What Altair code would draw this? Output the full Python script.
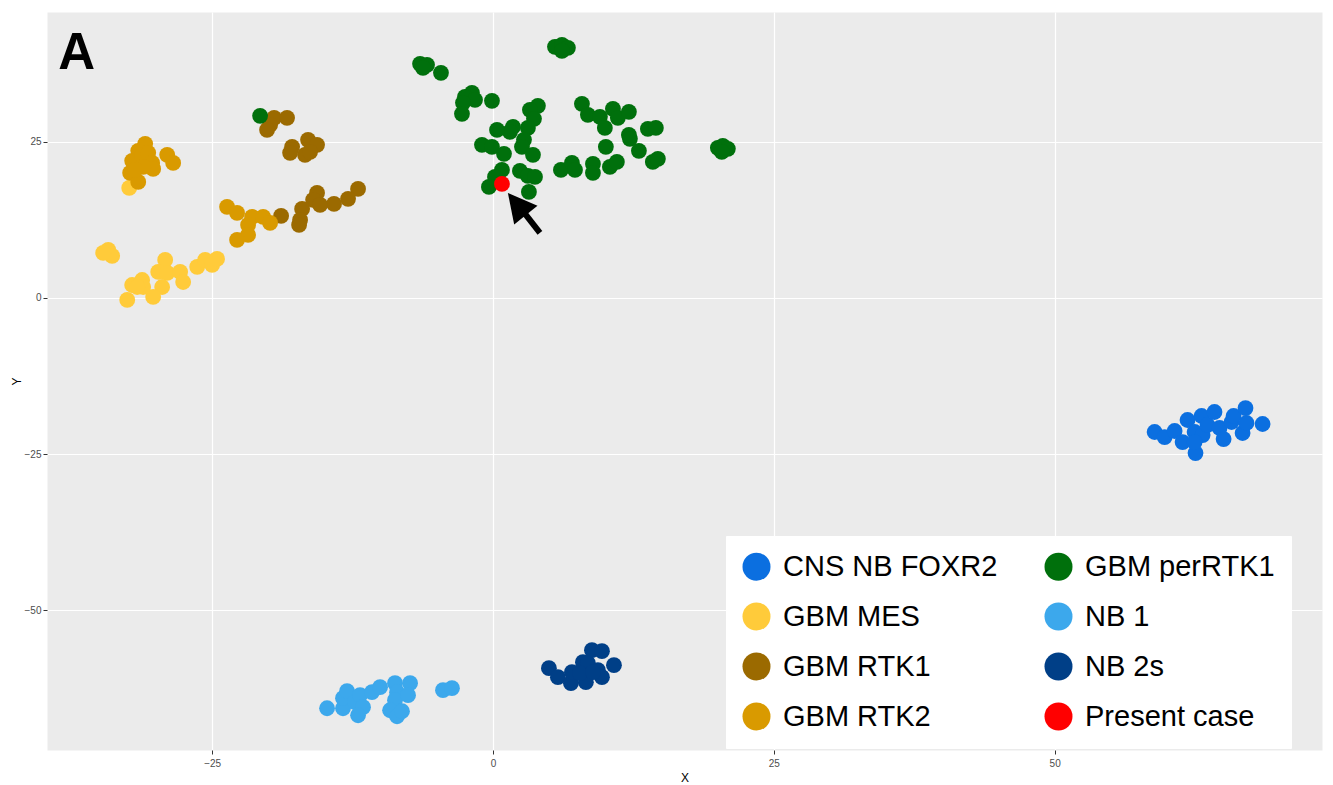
import altair as alt
import pandas as pd

# ---------------- data ----------------
groups = ["CNS NB FOXR2", "GBM MES", "GBM RTK1", "GBM RTK2",
          "GBM perRTK1", "NB 1", "NB 2s", "Present case"]
colors = ["#0B6FE0", "#FFCB3A", "#9B6A00", "#D99A00",
          "#00700C", "#3CA8EC", "#003F87", "#FF0000"]

foxr2_x = [58.90, 59.79, 60.68, 61.83, 61.39, 62.46, 62.54, 63.08, 63.17, 63.61,
           64.23, 64.68, 65.04, 65.75, 65.93, 66.73, 66.99, 67.08, 68.51, 62.46]
foxr2_y = [-21.47, -22.28, -21.31, -19.55, -23.08, -21.47, -24.84, -18.91, -21.96, -20.35,
           -18.27, -20.83, -22.60, -19.87, -18.91, -21.63, -17.63, -20.03, -20.19, -23.08]

mes_x = [-34.25, -33.90, -34.70, -29.18, -29.80, -29.00, -29.45, -30.25, -32.56, -32.12,
         -31.23, -31.14, -27.85, -27.58, -26.33, -25.62, -25.00, -24.56, -31.67, -32.38]
mes_y = [7.69, 6.73, 7.21, 6.09, 4.17, 4.01, 1.76, 0.16, -0.32, 2.08,
         2.88, 1.76, 4.17, 2.56, 4.97, 6.09, 5.29, 6.25, 1.76, 17.63]

rtk1_x = [-19.48, -19.84, -20.11, -18.33, -16.46, -15.66, -17.88, -18.06, -16.73, -16.28,
          -12.01, -12.90, -14.15, -15.66, -16.01, -15.39, -16.99, -17.17, -17.26, -18.86]
rtk1_y = [28.85, 27.72, 26.92, 28.85, 25.32, 24.52, 24.20, 23.24, 22.92, 23.40,
          17.47, 15.87, 15.06, 16.83, 15.71, 14.90, 14.26, 12.50, 11.70, 13.14]

rtk2_x = [-30.96, -31.58, -32.12, -31.25, -30.69, -30.34, -30.25, -32.30, -31.58, -29.00,
          -28.47, -31.14, -31.85,
          -23.67, -22.78, -21.44, -20.46, -19.84, -21.80, -21.80, -22.78]
rtk2_y = [24.68, 23.56, 21.96, 22.92, 23.24, 21.63, 20.67, 20.03, 18.59, 22.92,
          21.63, 20.99, 20.51,
          14.58, 13.62, 12.98, 12.98, 12.02, 11.70, 10.10, 9.29]

perrtk1_x = [-20.73, -6.49, -5.87, -6.23, -4.63, -1.87, -2.49, -1.60, -2.67, -2.76,
             -0.09, 4.00, 3.29, 3.65, 1.78, 1.51, 0.36, 3.11, 2.76, 2.58,
             -0.98, -0.09, 0.98, 3.56, 0.80, 0.18, -0.36, 2.40, 3.11, 3.74,
             3.20, 5.52, 6.14, 6.67, 6.14, 7.92, 8.45, 9.52, 9.96, 10.68,
             11.12, 12.10, 12.10, 12.19, 10.05, 12.99, 13.79, 14.50, 14.23, 14.68,
             6.05, 7.03, 7.30, 8.90, 8.90, 10.41, 11.03,
             20.02, 20.46, 20.91, 20.37]
perrtk1_y = [29.17, 37.50, 37.34, 36.86, 36.06, 32.85, 32.21, 31.73, 31.25, 29.49,
             31.57, 30.77, 30.13, 28.69, 27.40, 26.60, 26.92, 27.24, 25.32, 24.20,
             24.52, 24.20, 23.08, 22.92, 20.51, 19.39, 17.79, 20.35, 19.55, 19.39,
             16.99, 40.22, 40.54, 40.06, 39.58, 31.09, 29.33, 29.01, 27.24, 30.29,
             28.85, 29.81, 26.12, 25.48, 24.20, 23.56, 27.08, 27.24, 21.79, 22.28,
             20.51, 21.63, 20.51, 21.47, 20.03, 20.99, 21.79,
             24.04, 24.36, 23.88, 23.40]

nb1_x = [-14.77, -13.35, -13.35, -12.99, -12.28, -11.83, -11.57, -12.01, -10.77, -10.05,
         -8.72, -8.54, -8.72, -9.16, -8.54, -8.10, -7.38, -7.56, -4.45, -3.65]
nb1_y = [-65.71, -65.71, -64.10, -62.98, -64.74, -63.62, -65.54, -66.83, -63.14, -62.34,
         -61.70, -63.14, -64.42, -66.03, -67.00, -66.19, -61.70, -63.62, -62.82, -62.50]

nb2s_x = [4.98, 5.78, 6.94, 7.03, 8.01, 8.81, 9.70, 8.45, 8.27, 9.34, 9.70, 10.77, 7.74, 8.90]
nb2s_y = [-59.29, -60.74, -61.70, -59.94, -58.33, -56.41, -56.57, -58.49, -61.54, -59.62,
          -60.74, -58.81, -60.10, -59.94]

case_x = [0.80]
case_y = [18.27]

x_ticks = [-25, 0, 25, 50]
y_ticks = [-50, -25, 0, 25]

# annotations
panel_label = ["A"]
panel_x = [-38.7]
panel_y = [36.7]
shaft_x, shaft_y, shaft_x2, shaft_y2 = [2.58], [14.10], [4.18], [10.42]
head_x, head_y = [2.17], [14.95]

# ---------------- build tables ----------------
series = [
    ("CNS NB FOXR2", foxr2_x, foxr2_y),
    ("GBM MES", mes_x, mes_y),
    ("GBM RTK1", rtk1_x, rtk1_y),
    ("GBM RTK2", rtk2_x, rtk2_y),
    ("GBM perRTK1", perrtk1_x, perrtk1_y),
    ("NB 1", nb1_x, nb1_y),
    ("NB 2s", nb2s_x, nb2s_y),
    ("Present case", case_x, case_y),
]
rows = []
k = 0
for g, xs, ys in series:
    for xv, yv in zip(xs, ys):
        rows.append({"x": xv, "y": yv, "group": g, "ord": k})
        k += 1
df = pd.DataFrame(rows)

x_scale = alt.Scale(domain=[-39.7, 73.8], nice=False, zero=False)
y_scale = alt.Scale(domain=[-72.4, 45.8], nice=False, zero=False)

FONT = "Liberation Sans"

x_axis = alt.Axis(values=x_ticks, labelPadding=4, titlePadding=4)
y_axis = alt.Axis(values=y_ticks, labelPadding=2, titlePadding=1)

points = alt.Chart(df).mark_circle(size=250, opacity=1, strokeWidth=0).encode(
    x=alt.X("x:Q", scale=x_scale, axis=x_axis, title="X"),
    y=alt.Y("y:Q", scale=y_scale, axis=y_axis, title="Y"),
    color=alt.Color(
        "group:N",
        scale=alt.Scale(domain=groups, range=colors),
        legend=alt.Legend(
            title=None, orient="none", legendX=679, legendY=524,
            columns=2, columnPadding=46, rowPadding=20,
            symbolType="circle", symbolSize=784, symbolOpacity=1, symbolStrokeWidth=0,
            labelFont=FONT, labelFontSize=29, labelColor="black", labelOffset=12,
            labelLimit=400, fillColor="white", padding=16, strokeColor="white",
        ),
    ),
    order=alt.Order("ord:Q"),
)

shaft_df = pd.DataFrame({"x": shaft_x, "y": shaft_y, "x2": shaft_x2, "y2": shaft_y2})
shaft = alt.Chart(shaft_df).mark_rule(strokeWidth=6, color="black").encode(
    x=alt.X("x:Q", scale=x_scale, title="X"),
    y=alt.Y("y:Q", scale=y_scale, title="Y"),
    x2="x2:Q", y2="y2:Q",
)

head_df = pd.DataFrame({"x": head_x, "y": head_y})
head = alt.Chart(head_df).mark_point(
    shape="M0,-1L1,0.9L-1,0.9Z", size=900, angle=321, filled=True,
    color="black", opacity=1, strokeWidth=0,
).encode(
    x=alt.X("x:Q", scale=x_scale, title="X"),
    y=alt.Y("y:Q", scale=y_scale, title="Y"),
)

label_df = pd.DataFrame({"x": panel_x, "y": panel_y, "t": panel_label})
label = alt.Chart(label_df).mark_text(
    font=FONT, fontSize=51, fontWeight="bold", align="left", baseline="alphabetic",
    color="black",
).encode(
    x=alt.X("x:Q", scale=x_scale, title="X"),
    y=alt.Y("y:Q", scale=y_scale, title="Y"),
    text="t:N",
)

chart = alt.layer(points, shaft, head, label).properties(
    width=1275, height=738,
    autosize=alt.AutoSizeParams(type="none"),
    padding={"left": 39, "top": 4, "right": 3, "bottom": 35},
    background="white",
).configure_view(
    fill="#EBEBEB", stroke="transparent"
).configure_axis(
    grid=True, gridColor="white", gridWidth=1.2, domain=False,
    tickColor="#333333", tickSize=4, tickWidth=1,
    labelColor="#4D4D4D", labelFontSize=10, labelFont=FONT,
    titleFont=FONT, titleFontSize=12, titleFontWeight="normal", titleColor="black",
)

chart.save("out.html", embed_options={"renderer": "svg", "actions": False})
